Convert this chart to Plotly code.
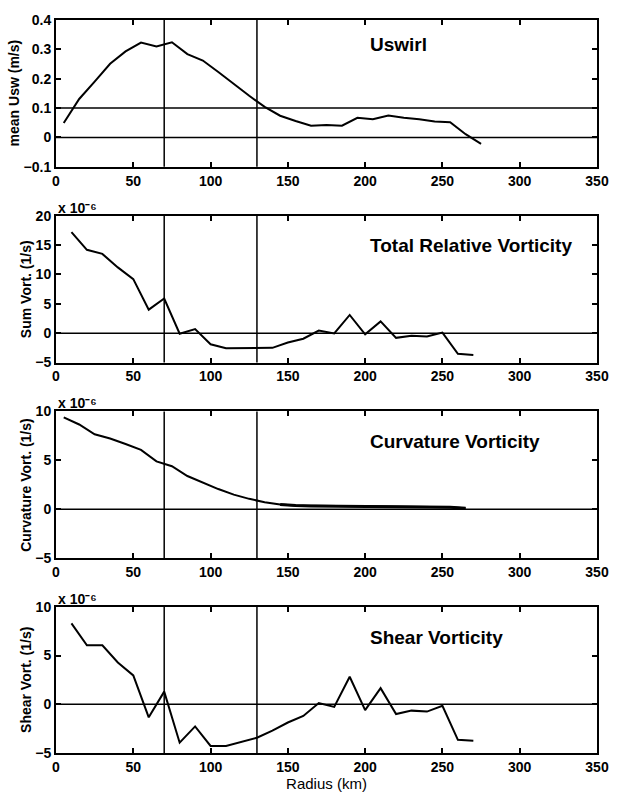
import plotly.graph_objects as go

# ---------------- data ----------------
radius_usw = [5, 15, 25, 35, 45, 55, 65, 75, 85, 95, 105, 115, 125, 135, 145,
              155, 165, 175, 185, 195, 205, 215, 225, 235, 245, 255, 265, 275]
uswirl = [0.049, 0.131, 0.19, 0.251, 0.293, 0.323, 0.31, 0.324, 0.284, 0.262,
          0.223, 0.182, 0.142, 0.104, 0.074, 0.056, 0.040, 0.042, 0.040, 0.067,
          0.062, 0.075, 0.067, 0.062, 0.054, 0.052, 0.011, -0.022]

radius_vort = [10, 20, 30, 40, 50, 60, 70, 80, 90, 100, 110, 120, 130, 140,
               150, 160, 170, 180, 190, 200, 210, 220, 230, 240, 250, 260, 270]
total_vort = [17.2, 14.2, 13.5, 11.2, 9.2, 4.0, 5.9, -0.1, 0.7, -1.9, -2.55,
              -2.55, -2.55, -2.5, -1.6, -0.95, 0.45, -0.05, 3.1, -0.2, 2.0,
              -0.8, -0.45, -0.55, 0.1, -3.5, -3.7]
shear_vort = [8.3, 6.06, 6.06, 4.3, 2.96, -1.34, 1.3, -3.94, -2.27, -4.27,
              -4.27, -3.87, -3.43, -2.7, -1.87, -1.2, 0.13, -0.27, 2.83, -0.6,
              1.66, -1.0, -0.65, -0.75, -0.15, -3.65, -3.75]

radius_curv = [5, 15, 25, 35, 45, 55, 65, 75, 85, 95, 105, 115, 125, 135, 145,
               155, 165, 175, 185, 195, 205, 215, 225, 235, 245, 255, 265]
curv_vort = [9.4, 8.67, 7.67, 7.23, 6.67, 6.07, 4.9, 4.4, 3.4, 2.73, 2.07,
             1.5, 1.07, 0.73, 0.5, 0.38, 0.35, 0.34, 0.33, 0.32, 0.31, 0.3,
             0.28, 0.26, 0.24, 0.2, 0.1]
curv_thick_from = 145  # radius beyond which the curvature trace is drawn heavier

radius_markers = [70, 130]
panel_titles = ["Uswirl", "Total Relative Vorticity", "Curvature Vorticity", "Shear Vorticity"]
y_titles = ["mean Usw (m/s)", "Sum Vort. (1/s)", "Curvature Vort. (1/s)", "Shear Vort. (1/s)"]
y_ranges = [[-0.1, 0.4], [-5, 20], [-5, 10], [-5, 10]]
y_ticks = [[-0.1, 0, 0.1, 0.2, 0.3, 0.4], [-5, 0, 5, 10, 15, 20], [-5, 0, 5, 10], [-5, 0, 5, 10]]
y_ticktext = [["\u22120.1", "0", "0.1", "0.2", "0.3", "0.4"],
              ["\u22125", "0", "5", "10", "15", "20"],
              ["\u22125", "0", "5", "10"], ["\u22125", "0", "5", "10"]]
h_levels = [[0, 0.1], [0], [0], [0]]
x_ticks = [0, 50, 100, 150, 200, 250, 300, 350]
x_label = "Radius (km)"
exp_label = "x 10\u207b\u2076"

series = [(radius_usw, uswirl), (radius_vort, total_vort),
          (radius_curv, curv_vort), (radius_vort, shear_vort)]

# ---------------- layout geometry ----------------
W, H = 621, 801
ML, MR, MT, MB = 56, 14, 15, 37
ph = H - MT - MB
px_panels = [(15, 165), (215, 365), (415, 565), (614.7, 764)]
domains = [[(764 - b) / ph, (764 - t) / ph] for t, b in px_panels]
title_frac = [0.833, 0.80, 0.795, 0.79]
ytitle_x = [14, 26, 26, 26]

FONT = "Liberation Sans, Arial, Helvetica, sans-serif"

fig = go.Figure()
layout = dict(
    width=W, height=H,
    margin=dict(l=ML, r=MR, t=MT, b=MB),
    paper_bgcolor="white", plot_bgcolor="white",
    showlegend=False,
    font=dict(family=FONT, color="black"),
)
shapes = []
annotations = []

for i, (xs, ys) in enumerate(series):
    n = "" if i == 0 else str(i + 1)
    fig.add_trace(go.Scatter(x=xs, y=ys, mode="lines",
                             line=dict(color="black", width=2),
                             xaxis="x" + n, yaxis="y" + n, hoverinfo="skip"))
    if i == 2:
        tail = [(r, v) for r, v in zip(xs, ys) if r >= curv_thick_from]
        fig.add_trace(go.Scatter(x=[t[0] for t in tail], y=[t[1] for t in tail],
                                 mode="lines", line=dict(color="black", width=3),
                                 xaxis="x" + n, yaxis="y" + n, hoverinfo="skip"))
    layout["xaxis" + n] = dict(
        domain=[0, 1], anchor="y" + n, range=[0, 350],
        tickvals=x_ticks, ticks="inside", ticklen=5, tickwidth=1.5, tickcolor="black",
        showline=True, linecolor="black", linewidth=2, mirror="allticks",
        showgrid=False, zeroline=False,
        tickfont=dict(family=FONT, size=14, weight="bold", color="black"),
    )
    layout["yaxis" + n] = dict(
        domain=domains[i], anchor="x" + n, range=y_ranges[i],
        tickvals=y_ticks[i], ticktext=y_ticktext[i],
        ticks="inside", ticklen=5, tickwidth=1.5, tickcolor="black",
        showline=True, linecolor="black", linewidth=2, mirror="allticks",
        showgrid=False, zeroline=False,
        tickfont=dict(family=FONT, size=14, weight="bold", color="black"),
    )
    for xm in radius_markers:
        shapes.append(dict(type="line", xref="x" + n, yref="y" + n + " domain",
                           x0=xm, x1=xm, y0=0, y1=1,
                           line=dict(color="black", width=1.5)))
    for lv in h_levels[i]:
        shapes.append(dict(type="line", xref="x" + n + " domain", yref="y" + n,
                           x0=0, x1=1, y0=lv, y1=lv,
                           line=dict(color="black", width=1.5)))
    annotations.append(dict(text=panel_titles[i], xref="x" + n, yref="y" + n + " domain",
                            x=202, y=title_frac[i], xanchor="left", yanchor="middle",
                            showarrow=False,
                            font=dict(family=FONT, size=19, weight="bold", color="black")))
    annotations.append(dict(text=y_titles[i], xref="paper", yref="paper",
                            x=0, y=sum(domains[i]) / 2, xshift=ytitle_x[i] - ML,
                            xanchor="center", yanchor="middle", textangle=-90,
                            showarrow=False,
                            font=dict(family=FONT, size=14, weight="bold", color="black")))
    if i > 0:
        annotations.append(dict(text=exp_label, xref="paper", yref="paper",
                                x=0, y=domains[i][1], xanchor="left", yanchor="bottom",
                                yshift=-2, showarrow=False,
                                font=dict(family=FONT, size=14, weight="bold", color="black")))

layout["xaxis4"]["title"] = dict(text=x_label, standoff=4,
                                 font=dict(family=FONT, size=15, color="black"))
layout["shapes"] = shapes
layout["annotations"] = annotations
fig.update_layout(**layout)
fig.write_html("out.html")
